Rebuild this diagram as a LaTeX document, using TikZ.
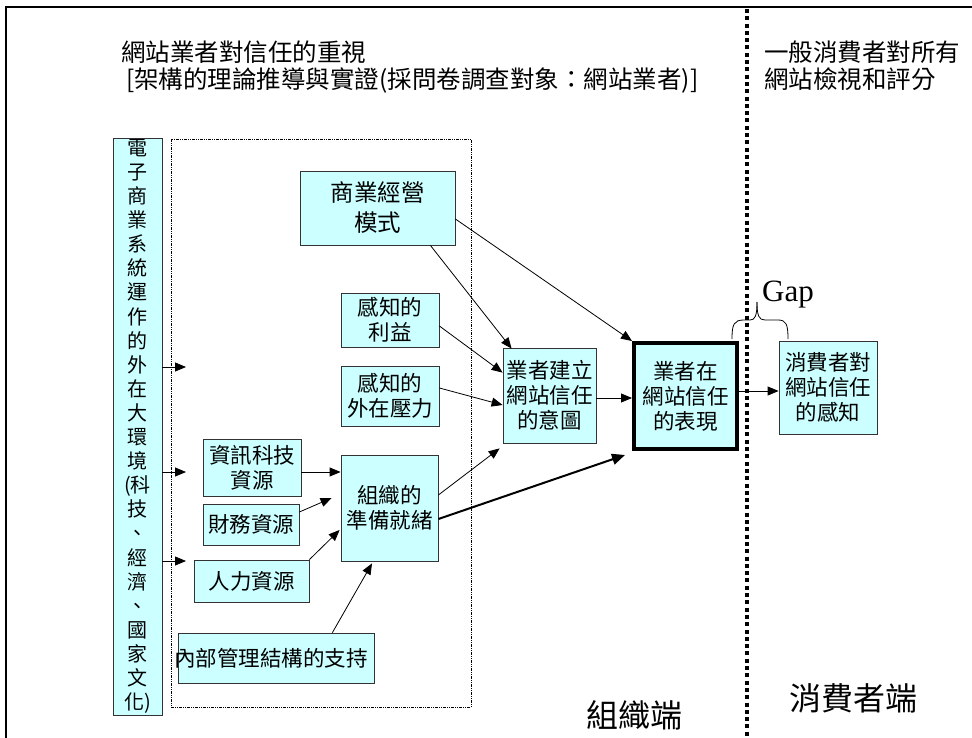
\documentclass[tikz,border=0pt]{standalone}
\usepackage{fontspec}
\setmainfont{Noto Sans CJK TC}
\newfontfamily\gapfont{Liberation Serif}
\usetikzlibrary{arrows.meta,calc}
\definecolor{boxfill}{HTML}{CCFFFF}
\tikzset{
  box/.style={draw=black!80, fill=boxfill, line width=0.8pt, inner sep=0pt, align=center,
              font=\fontsize{21.5}{25}\selectfont},
  arr/.style={-{Triangle[length=11pt,width=9pt]}, line width=0.8pt},
  thickarr/.style={-{Triangle[length=13pt,width=11pt]}, line width=2pt},
  plain/.style={inner sep=0pt, font=\fontsize{24.5}{27}\selectfont},
  bottomlabel/.style={inner sep=0pt, font=\fontsize{32}{36}\selectfont},
}
\begin{document}
\begin{tikzpicture}[x=1pt,y=-1pt]
\useasboundingbox (0,0) rectangle (972,738);
% outer frame (top and left)
\draw[line width=2pt] (6,738) -- (6,7) -- (972,7);
% divider
\draw[line width=4.3pt, dash pattern=on 4pt off 3.3pt] (747,9) -- (747,738);

% titles
\node[plain, anchor=base west] (t1) at (121,61.3) {網站業者對信任的重視};
\node[plain, anchor=base west] (t2) at (126,88.3) {[架構的理論推導與實證(採問卷調查對象：網站業者)]};
\node[plain, anchor=base west] (t3) at (764,61.3) {一般消費者對所有};
\node[plain, anchor=base west] (t4) at (764,88.3) {網站檢視和評分};

% dotted region
\node[draw, line width=0.8pt, dash pattern=on 3pt off 1pt on 1pt off 1pt on 1pt off 1pt,
      minimum width=300pt, minimum height=568pt, inner sep=0pt] (region) at (321,423) {};

% left bar
\node[box, minimum width=49pt, minimum height=577pt, font=\fontsize{20}{24.1}\selectfont]
  (bar) at (137.5,426.5) {電\\子\\商\\業\\系\\統\\運\\作\\的\\外\\在\\大\\環\\境\\(科\\技\\、\\經\\濟\\、\\國\\家\\文\\化)};

% boxes
\node[box, minimum width=155pt, minimum height=74pt, font=\fontsize{23.5}{30}\selectfont] (biz) at (377.5,208) {商業經營\\模式};
\node[box, minimum width=98pt, minimum height=54pt] (benefit) at (390,320) {感知的\\利益};
\node[box, minimum width=98pt, minimum height=60pt] (pressure) at (390,396) {感知的\\外在壓力};
\node[box, minimum width=98pt, minimum height=57pt] (it) at (252,467.5) {資訊科技\\資源};
\node[box, minimum width=96pt, minimum height=41pt] (finance) at (251,524.5) {財務資源};
\node[box, minimum width=115pt, minimum height=42pt] (human) at (251.5,581) {人力資源};
\node[box, minimum width=196pt, minimum height=50pt] (internal) at (276,658) {\kern-10pt 內部管理結構的支持};
\node[box, minimum width=97pt, minimum height=106pt] (org) at (389.5,508) {組織的\\準備就緒};
\node[box, minimum width=93pt, minimum height=95pt] (intent) at (549.5,395.5) {業者建立\\網站信任\\的意圖};
\node[box, draw=black, line width=4pt, minimum width=103pt, minimum height=106pt] (perf) at (685.5,396) {業者在\\網站信任\\的表現};
\node[box, minimum width=98pt, minimum height=93pt] (consumer) at (828,387.5) {消費者對\\網站信任\\的感知};

% arrows from the environment bar
\coordinate (a1) at (186,367);
\coordinate (a2) at (186,472);
\coordinate (a3) at (186,561);
\draw[arr] (a1 -| bar.east) -- (a1);
\draw[arr] (a2 -| bar.east) -- (a2);
\draw[arr] (a3 -| bar.east) -- (a3);

% resources -> organisation readiness
\draw[arr] ($(it.east)+(0,4.5)$) coordinate (itp) -- (itp -| org.west);
\draw[arr] ($(finance.east)+(0,-12.5)$) -- ($(org.west)+(-9,-10)$);
\draw[arr] (human.north east) -- ($(org.west)+(-1,22)$);
\draw[arr] ($(internal.north east)+(-42,0)$) -- ($(org.south)+(-17.5,2)$);

% into intention
\draw[arr] ($(biz.south east)+(-25,0)$) -- ($(intent.north west)+(9,1)$);
\draw[arr] ($(benefit.east)+(0,6)$) -- ($(intent.north west)+(0,25)$);
\draw[arr] ($(pressure.east)+(0,-8)$) -- ($(intent.west)+(0,9.5)$);
\draw[arr] ($(org.east)+(0,-13)$) -- ($(intent.south west)+(-3,5)$);

% into performance
\draw[arr] ($(biz.east)+(0,11)$) -- (perf.north west);
\draw[arr] ($(intent.east)+(0,2.5)$) coordinate (ip) -- (ip -| perf.west);
\draw[thickarr] ($(org.east)+(0,11)$) -- ($(perf.south west)+(-7,4)$);

% performance -> consumer perception
\coordinate (c1) at ($(consumer.west)+(0,3.5)$);
\draw[arr] (c1 -| perf.east) -- (c1);

% gap brace
\draw[line width=0.8pt] (732,339) .. controls (732,324) and (734,320) .. (744,320) -- (750,320)
   .. controls (755,320) and (757,316) .. (757,302);
\draw[line width=0.8pt] (757,302) .. controls (757,316) and (759,320) .. (765,320) -- (778,320)
   .. controls (786,320) and (788,324) .. (788,339);
\node[inner sep=0pt, anchor=base west, font=\gapfont\fontsize{31}{34}\selectfont] (gap) at (762,301) {Gap};

% bottom labels
\node[bottomlabel, anchor=base] (orgside) at (634,727) {組織端};
\node[bottomlabel, anchor=base] (consside) at (853,710) {消費者端};
\end{tikzpicture}
\end{document}
